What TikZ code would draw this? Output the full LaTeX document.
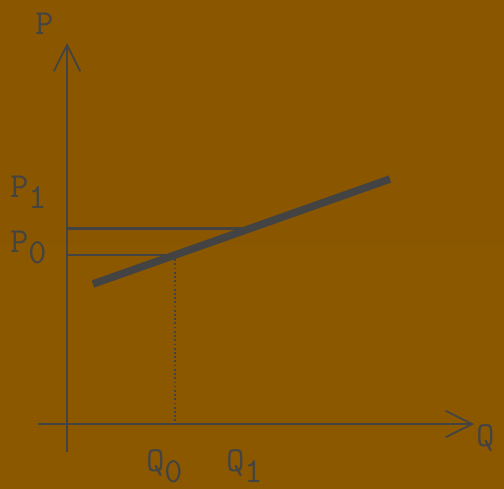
\documentclass[tikz,border=0pt]{standalone}
\usepackage{fontspec}
\usepackage{tikz}
\usetikzlibrary{arrows.meta,calc}
\definecolor{SDTop}{HTML}{8A5700}
\definecolor{SDMid}{HTML}{9C6700}
\definecolor{SDBottom}{HTML}{8B5800}
\definecolor{SDInk}{HTML}{434343}
\newcommand{\sdlab}[2]{#1\raisebox{-.32em}{#2}}
\tikzset{
  axisline/.style={SDInk,line width=1.5pt,-{Straight Barb[length=15pt,width=15pt,line width=1pt]}},
  guideline/.style={SDInk,line width=1.2pt},
  dotline/.style={SDInk,line width=1.4pt,dash pattern=on 1pt off 1.4pt},
  supplyline/.style={SDInk,line width=4.3pt},
  sdtext/.style={SDInk,inner sep=0pt,anchor=base west,font=\ttfamily\fontsize{20}{20}\selectfont}
}

\begin{document}
\begin{tikzpicture}[x=0.02cm,y=0.02cm]
\path[use as bounding box] (0,0) rectangle (504,488);
\shade[top color=SDTop,middle color=SDMid,bottom color=SDBottom] (0,0) rectangle (504,488);
\coordinate (O) at (67,64);
\coordinate (ybot) at (67,36);
\coordinate (ytop) at (67,445);
\coordinate (xleft) at (38,64);
\coordinate (xright) at (474,64);
\coordinate (S1) at (93,204);
\coordinate (S2) at (390,309);
\coordinate (E0) at ($(S1)!0.276!(S2)$);
\coordinate (E1) at ($(S1)!0.529!(S2)$);
\draw[axisline] (ybot) -- (ytop);
\draw[axisline] (xleft) -- (xright);
\draw[guideline] (O |- E1) -- (E1);
\draw[guideline] (O |- E0) -- (E0);
\draw[dotline] (E0) -- (E0 |- O);
\draw[supplyline] (S1) -- (S2);
\node[sdtext] (labP) at (35,454) {P};
\node[sdtext] (labQ) at (476,42) {Q};
\node[sdtext] (labP1) at (10,291) {\sdlab{P}{1}};
\node[sdtext] (labP0) at (10,236) {\sdlab{P}{0}};
\node[sdtext] (labQ0) at (146,17) {\sdlab{Q}{0}};
\node[sdtext] (labQ1) at (226,17) {\sdlab{Q}{1}};
\end{tikzpicture}
\end{document}
